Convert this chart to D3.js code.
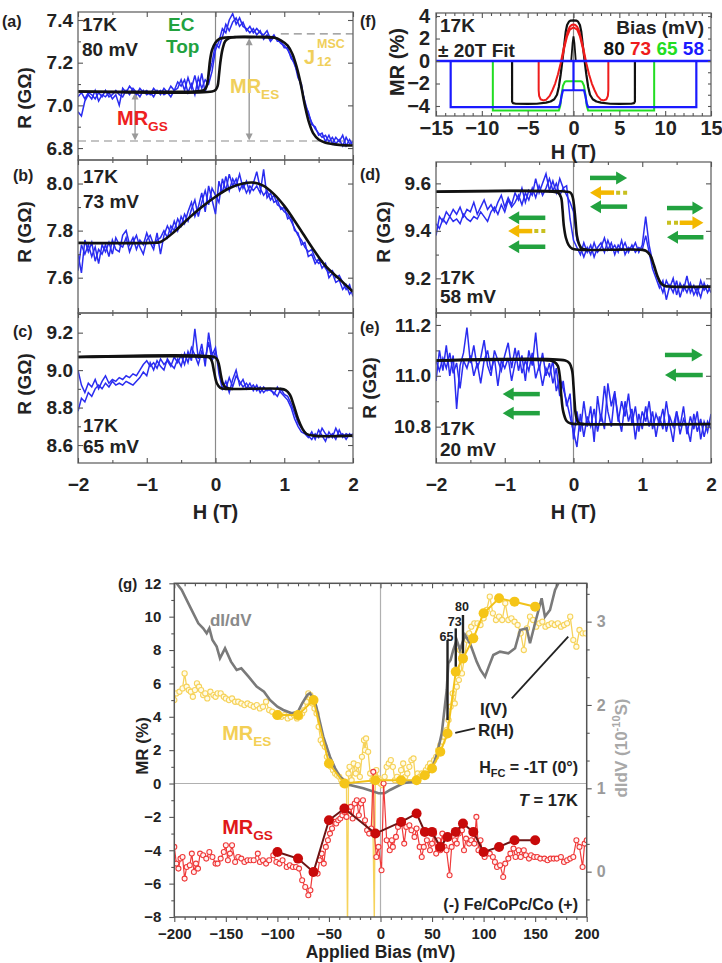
<!DOCTYPE html>
<html><head><meta charset="utf-8">
<script src="https://cdn.jsdelivr.net/npm/d3@7/dist/d3.min.js"></script>
<style>body{margin:0;background:#fff;} svg{display:block;}</style>
</head><body><svg id="c" width="722" height="963"></svg>
<script>
// ---------------- DATA ----------------
const H = [-2,-1.95,-1.9,-1.85,-1.8,-1.75,-1.7,-1.65,-1.6,-1.55,-1.5,-1.45,-1.4,-1.35,-1.3,-1.25,-1.2,-1.15,-1.1,-1.05,-1,-0.95,-0.9,-0.85,-0.8,-0.75,-0.7,-0.65,-0.6,-0.55,-0.5,-0.45,-0.4,-0.35,-0.3,-0.25,-0.2,-0.15,-0.1,-0.05,0,0.05,0.1,0.15,0.2,0.25,0.3,0.35,0.4,0.45,0.5,0.55,0.6,0.65,0.7,0.75,0.8,0.85,0.9,0.95,1,1.05,1.1,1.15,1.2,1.25,1.3,1.35,1.4,1.45,1.5,1.55,1.6,1.65,1.7,1.75,1.8,1.85,1.9,1.95,2];
const hTicks = [-2,-1,0,1,2];

// (a) 80 mV
const aSweep1 = [6.97,6.95,7.02,7.05,7.03,7.07,7.02,7.05,7.04,7.06,7.03,7.05,7.00,7.08,7.06,7.09,7.07,7.05,7.08,7.06,7.07,7.05,7.08,7.06,7.07,7.05,7.06,7.04,7.07,7.11,7.09,7.12,7.06,7.10,7.05,7.13,7.08,7.12,7.10,7.16,7.26,7.30,7.36,7.34,7.40,7.43,7.38,7.41,7.37,7.36,7.34,7.36,7.33,7.35,7.31,7.33,7.30,7.32,7.31,7.29,7.28,7.26,7.23,7.19,7.15,7.08,7.02,6.96,6.92,6.89,6.87,6.85,6.86,6.83,6.85,6.82,6.84,6.81,6.85,6.82,6.83];
const aSweep2 = [7.04,7.06,7.03,7.06,7.05,7.03,7.06,7.04,7.07,7.04,7.05,7.07,7.05,7.04,7.07,7.05,7.08,7.06,7.04,7.07,7.05,7.06,7.04,7.07,7.05,7.08,7.06,7.09,7.07,7.08,7.12,7.07,7.13,7.08,7.14,7.07,7.15,7.06,7.14,7.20,7.29,7.27,7.32,7.38,7.35,7.39,7.41,7.37,7.39,7.35,7.37,7.34,7.36,7.34,7.33,7.35,7.31,7.33,7.30,7.30,7.27,7.27,7.22,7.20,7.13,7.10,7.00,6.97,6.91,6.90,6.86,6.87,6.83,6.86,6.82,6.85,6.83,6.86,6.81,6.84,6.81];
const aFit1 = [[-2,7.065],[-0.3,7.065],[-0.2,7.068],[-0.15,7.076],[-0.12,7.1],[-0.1,7.15],[-0.08,7.21],[-0.05,7.26],[0,7.295],[0.06,7.312],[0.15,7.318],[0.5,7.32],[0.85,7.318],[0.95,7.305],[1.05,7.28],[1.12,7.24],[1.18,7.18],[1.24,7.1],[1.3,7.0],[1.36,6.92],[1.42,6.87],[1.5,6.84],[1.6,6.825],[1.8,6.815],[2,6.812]];
const aFit2 = [[-2,7.065],[-0.05,7.065],[0,7.072],[0.03,7.09],[0.05,7.14],[0.07,7.2],[0.1,7.26],[0.14,7.3],[0.2,7.315],[0.3,7.32],[0.85,7.318]];

// (b) 73 mV
const bSweep1 = [7.70,7.62,7.76,7.71,7.75,7.67,7.72,7.70,7.74,7.69,7.76,7.72,7.71,7.78,7.80,7.74,7.77,7.72,7.76,7.74,7.79,7.75,7.72,7.79,7.70,7.78,7.82,7.79,7.84,7.80,7.86,7.83,7.88,7.92,7.86,7.90,7.96,7.88,7.99,7.93,7.87,8.01,7.96,8.03,7.97,8.02,7.99,8.04,7.98,8.01,7.96,8.00,8.05,7.98,7.95,7.97,7.93,7.95,7.91,7.90,7.88,7.87,7.84,7.81,7.78,7.76,7.73,7.71,7.72,7.68,7.66,7.67,7.64,7.62,7.63,7.60,7.61,7.58,7.55,7.57,7.52];
const bSweep2 = [7.63,7.74,7.70,7.74,7.69,7.73,7.66,7.74,7.71,7.75,7.70,7.77,7.74,7.73,7.77,7.71,7.75,7.78,7.73,7.70,7.76,7.78,7.74,7.76,7.77,7.80,7.77,7.82,7.80,7.85,7.82,7.87,7.84,7.89,7.93,7.86,7.92,7.97,7.91,7.98,7.95,7.92,8.02,7.97,8.04,7.99,8.02,7.97,8.00,7.96,7.99,7.97,7.99,7.96,8.06,7.94,7.96,7.92,7.93,7.89,7.90,7.85,7.86,7.80,7.79,7.74,7.75,7.69,7.70,7.66,7.68,7.64,7.66,7.60,7.62,7.58,7.59,7.55,7.57,7.53,7.55];
const bFit = [[-2,7.748],[-0.95,7.748],[-0.8,7.752],[-0.6,7.795],[-0.4,7.85],[-0.2,7.90],[0,7.944],[0.2,7.98],[0.4,8.0],[0.55,8.004],[0.7,7.99],[0.85,7.955],[1.0,7.905],[1.2,7.82],[1.4,7.73],[1.6,7.65],[1.8,7.595],[2,7.54]];

// (c) 65 mV
const cSweep1 = [9.00,8.92,8.88,8.93,8.91,8.95,8.90,8.94,8.97,8.93,8.95,8.94,8.96,8.95,8.97,8.96,8.98,8.97,9.00,9.03,9.05,9.02,9.04,9.01,9.06,9.03,9.05,9.02,9.07,9.04,9.08,9.03,9.10,9.05,9.22,9.06,9.14,9.02,9.20,9.08,9.12,8.98,8.90,8.94,8.88,8.95,9.00,8.92,8.95,8.90,8.93,8.89,8.92,8.88,8.91,8.89,8.90,8.87,8.91,8.88,8.86,8.84,8.80,8.74,8.70,8.67,8.66,8.64,8.67,8.63,8.68,8.65,8.62,8.67,8.64,8.69,8.65,8.66,8.63,8.66,8.64];
const cSweep2 = [8.78,8.85,8.83,8.88,8.86,8.90,8.92,8.90,8.93,8.91,8.94,8.92,8.93,8.92,8.94,8.93,8.92,8.94,8.96,8.99,8.97,9.04,9.00,9.05,9.02,9.00,9.06,9.03,9.01,9.06,9.02,9.09,9.04,9.12,9.08,9.03,9.10,9.06,9.15,9.05,9.10,9.02,8.93,8.90,8.96,8.91,8.97,8.94,8.91,8.93,8.90,8.92,8.89,8.91,8.88,8.90,8.89,8.88,8.86,8.90,8.87,8.86,8.82,8.77,8.72,8.69,8.67,8.65,8.63,8.66,8.64,8.69,8.66,8.64,8.66,8.63,8.68,8.64,8.66,8.65,8.66];
const cFit1 = [[-2,9.07],[-0.12,9.07],[-0.08,9.065],[-0.05,9.045],[-0.02,8.99],[0.02,8.93],[0.07,8.905],[0.15,8.9],[0.95,8.9],[1.02,8.893],[1.08,8.87],[1.14,8.81],[1.2,8.74],[1.26,8.69],[1.32,8.66],[1.42,8.65],[2,8.65]];
const cFit2 = [[-2,9.07],[-0.02,9.07],[0.02,9.06],[0.05,9.03],[0.08,8.97],[0.11,8.925],[0.16,8.905],[0.25,8.9]];

// (d) 58 mV
const dSweep1 = [9.38,9.46,9.44,9.48,9.46,9.49,9.47,9.50,9.46,9.49,9.48,9.52,9.47,9.50,9.53,9.49,9.51,9.48,9.52,9.55,9.50,9.54,9.51,9.56,9.53,9.58,9.52,9.57,9.55,9.62,9.56,9.60,9.64,9.57,9.61,9.56,9.62,9.58,9.59,9.45,9.36,9.33,9.30,9.35,9.31,9.34,9.29,9.33,9.35,9.31,9.36,9.32,9.34,9.31,9.36,9.30,9.33,9.32,9.35,9.31,9.34,9.46,9.34,9.27,9.22,9.18,9.14,9.19,9.16,9.20,9.13,9.18,9.15,9.21,9.14,9.17,9.13,9.19,9.15,9.17,9.14];
const dSweep2 = [9.43,9.41,9.45,9.43,9.46,9.44,9.45,9.43,9.47,9.45,9.44,9.46,9.45,9.48,9.46,9.44,9.48,9.50,9.47,9.51,9.48,9.53,9.50,9.52,9.55,9.51,9.56,9.53,9.58,9.54,9.59,9.55,9.58,9.62,9.57,9.60,9.55,9.58,9.55,9.52,9.48,9.36,9.33,9.29,9.33,9.30,9.35,9.31,9.33,9.37,9.32,9.35,9.30,9.34,9.32,9.35,9.31,9.34,9.31,9.33,9.32,9.38,9.31,9.24,9.20,9.16,9.19,9.11,9.17,9.14,9.19,9.12,9.17,9.14,9.18,9.13,9.16,9.12,9.18,9.14,9.17];
const dFit1 = [[-2,9.565],[-0.3,9.565],[-0.22,9.56],[-0.18,9.54],[-0.16,9.49],[-0.14,9.42],[-0.11,9.37],[-0.07,9.34],[-0.02,9.325],[0.1,9.32],[1.0,9.32],[1.06,9.315],[1.12,9.295],[1.17,9.255],[1.22,9.21],[1.27,9.18],[1.33,9.168],[1.42,9.165],[2,9.165]];
const dFit2 = [[-2,9.565],[-0.1,9.565],[-0.04,9.56],[-0.01,9.54],[0.01,9.5],[0.03,9.44],[0.05,9.38],[0.08,9.345],[0.12,9.325],[0.2,9.32]];

// (e) 20 mV
const eSweep1 = [10.98,11.10,11.02,11.12,11.00,11.08,10.87,11.04,11.09,11.19,11.05,11.12,11.03,11.07,11.14,11.04,11.00,11.10,11.06,11.02,11.08,11.13,11.03,11.11,11.02,11.08,10.98,11.10,11.04,11.17,11.02,11.09,11.00,11.05,10.97,11.03,10.92,10.98,10.88,10.93,10.75,10.86,10.78,10.90,10.80,10.88,10.74,10.92,10.82,10.96,10.86,10.80,10.93,10.84,10.78,10.90,10.82,10.87,10.75,10.85,10.79,10.88,10.80,10.86,10.76,10.84,10.79,10.90,10.81,10.74,10.86,10.80,10.88,10.77,10.84,10.79,10.86,10.75,10.82,10.78,10.85];
const eSweep2 = [11.06,11.02,11.07,11.03,11.09,11.01,11.05,10.95,11.06,11.03,11.08,11.00,11.05,10.97,11.06,11.10,11.02,11.07,10.96,11.06,11.03,11.07,10.98,11.05,11.10,11.01,11.06,11.02,11.09,10.99,11.04,10.96,11.03,11.00,11.06,10.94,10.99,10.95,10.90,10.84,10.78,10.72,10.85,10.76,10.84,10.80,10.87,10.78,10.85,10.79,10.97,10.88,10.94,10.82,10.90,10.84,10.93,10.81,10.88,10.78,10.86,10.82,10.90,10.79,10.85,10.81,10.87,10.78,10.84,10.80,10.86,10.77,10.83,10.80,10.74,10.85,10.78,10.83,10.76,10.82,10.79];
const eFit1 = [[-2,11.06],[-0.35,11.06],[-0.28,11.055],[-0.23,11.04],[-0.2,11.0],[-0.18,10.93],[-0.15,10.86],[-0.1,10.822],[-0.04,10.812],[0.1,10.81],[2,10.81]];
const eFit2 = [[-2,11.06],[-0.12,11.06],[-0.06,11.05],[-0.02,11.02],[0,10.96],[0.015,10.9],[0.035,10.845],[0.07,10.816],[0.15,10.81]];

// (f) +/-20T fit, MR (%) vs H (T) for each bias
const fBias = ["80","73","65","58"];
const f80 = [[-15,0],[-6.7,0],[-6.7,-3.6],[-6.6,-3.75],[-6.3,-3.8],[-5,-3.82],[-4,-3.8],[-3,-3.7],[-2.5,-3.6],[-2.1,-3.4],[-1.8,-3.0],[-1.6,-2.3],[-1.4,-1.2],[-1.2,0.1],[-1.0,1.5],[-0.85,2.6],[-0.7,3.2],[-0.5,3.5],[-0.3,3.6],[0,3.62],[0.3,3.6],[0.5,3.5],[0.7,3.2],[0.85,2.6],[1.0,1.5],[1.2,0.1],[1.4,-1.2],[1.6,-2.3],[1.8,-3.0],[2.1,-3.4],[2.5,-3.6],[3,-3.7],[4,-3.8],[5,-3.82],[6.3,-3.8],[6.6,-3.75],[6.7,-3.6],[6.7,0],[15,0]];
const f80b = [[-0.25,0],[-0.1,1.6],[0,2.2],[0.1,1.6],[0.25,0]];
const f73 = [[-15,0],[-3.8,0],[-3.8,-2.6],[-3.75,-3.1],[-3.6,-3.4],[-3.3,-3.5],[-3.0,-3.45],[-2.6,-3.1],[-2.3,-2.6],[-2.0,-2.0],[-1.7,-1.2],[-1.4,-0.2],[-1.1,1.0],[-0.8,2.1],[-0.6,2.7],[-0.4,3.05],[-0.2,3.2],[0,3.25],[0.2,3.2],[0.4,3.05],[0.6,2.7],[0.8,2.1],[1.1,1.0],[1.4,-0.2],[1.7,-1.2],[2.0,-2.0],[2.3,-2.6],[2.6,-3.1],[3.0,-3.45],[3.3,-3.5],[3.6,-3.4],[3.75,-3.1],[3.8,-2.6],[3.8,0],[15,0]];
const f73b = [[-1.3,0],[-1.0,1.2],[-0.7,2.2],[-0.4,2.8],[0,3.0],[0.4,2.8],[0.7,2.2],[1.0,1.2],[1.3,0]];
const f65 = [[-15,0],[-8.8,0],[-8.8,-4.4],[-1.6,-4.4],[-1.45,-4.0],[-1.3,-3.0],[-1.15,-2.2],[-0.95,-1.85],[-0.8,-1.8],[0.8,-1.8],[0.95,-1.85],[1.15,-2.2],[1.3,-3.0],[1.45,-4.0],[1.6,-4.4],[8.8,-4.4],[8.8,0],[15,0]];
const f58 = [[-15,0],[-13.4,0],[-13.4,-4.1],[-1.6,-4.1],[-1.45,-3.8],[-1.3,-3.1],[-1.15,-2.6],[0,-2.6],[0,0],[0,-2.6],[1.15,-2.6],[1.3,-3.1],[1.45,-3.8],[1.6,-4.1],[13.4,-4.1],[13.4,0],[15,0]];
const fZero = [[-15,0],[15,0]];

// (g) MR vs applied bias
const esOpen = [[-200,5.0],[-198,5.4],[-195,5.5],[-192,5.7],[-190,6.6],[-188,5.8],[-186,5.6],[-184,5.5],[-182,5.2],[-180,5.6],[-178,6.0],[-176,5.8],[-174,5.6],[-172,5.3],[-170,5.4],[-168,5.1],[-165,5.5],[-162,5.3],[-160,5.2],[-158,5.4],[-155,5.4],[-152,5.2],[-150,5.1],[-147,5.0],[-144,5.1],[-141,4.9],[-138,4.9],[-135,4.8],[-132,4.7],[-129,4.8],[-126,4.7],[-123,4.6],[-120,4.7],[-117,4.5],[-114,4.6],[-111,4.9],[-108,4.4],[-105,4.3],[-102,4.1],[-99,4.2],[-96,4.0],[-93,4.1],[-90,3.9],[-87,4.0],[-84,4.1],[-81,3.9],[-78,4.0],[-76,4.2],[-74,4.4],[-72,4.9],[-70,5.4],[-68,5.3],[-66,4.8],[-64,4.5],[-62,4.2],[-60,3.4],[-58,2.6],[-56,2.4],[-54,2.2],[-52,1.6],[-50,1.2],[-48,1.0],[-46,0.8],[-44,0.6],[-42,0.5],[-40,0.4],[-38,0.2],[-36,0.0],[-34,0.1],[-33,-0.1],[-32,-9],[-31,0.6],[-30,1.0],[-28,0.2],[-26,1.2],[-24,0.6],[-22,1.1],[-20,0.4],[-18,1.6],[-16,2.6],[-15,2.0],[-14,2.7],[-12,1.9],[-10,0.6],[-8,0.2],[-6,-8.3],[-5,0.4],[-4,0.8],[-2,0.3],[0,0.0],[2,-0.1],[4,0.4],[6,1.0],[8,1.2],[10,1.4],[12,1.0],[14,0.2],[16,0.4],[18,0.2],[20,0.8],[22,1.2],[24,0.4],[26,0.6],[28,1.0],[30,1.4],[32,1.5],[34,0.2],[36,0.6],[38,0.4],[40,0.6],[42,0.5],[44,0.8],[46,1.0],[48,1.2],[50,1.0],[52,1.4],[54,1.6],[56,2.0],[58,2.3],[60,2.5],[62,2.8],[64,3.2],[66,3.8],[68,4.6],[70,5.4],[72,4.8],[74,5.8],[76,6.2],[77,8.0],[79,6.6],[81,7.4],[84,8.6],[86,9.0],[88,9.4],[91,9.6],[94,9.6],[97,9.5],[100,9.9],[103,10.4],[106,11.2],[109,10.2],[112,9.8],[115,10.0],[118,9.8],[121,10.8],[124,9.8],[127,9.9],[130,9.7],[133,9.5],[136,9.0],[139,8.0],[142,9.3],[145,10.0],[148,9.8],[151,9.4],[154,9.6],[157,9.7],[160,9.4],[163,9.5],[166,9.6],[169,9.5],[172,9.6],[175,9.4],[178,9.5],[181,9.6],[184,10.0],[187,8.6],[190,8.2],[193,9.2],[196,9.0],[199,9.0]];
const gsOpen = [[-200,-3.8],[-198,-4.8],[-196,-5.1],[-194,-4.5],[-192,-4.4],[-190,-5.7],[-188,-5.0],[-185,-4.9],[-183,-4.2],[-181,-5.3],[-179,-4.8],[-177,-5.1],[-175,-4.2],[-172,-4.3],[-169,-4.5],[-166,-4.1],[-163,-4.4],[-160,-4.8],[-158,-4.8],[-155,-4.5],[-152,-4.1],[-150,-3.7],[-148,-4.6],[-146,-4.2],[-144,-3.7],[-141,-4.7],[-138,-4.4],[-135,-4.5],[-132,-4.7],[-129,-4.6],[-126,-4.6],[-123,-4.6],[-119,-4.2],[-117,-4.7],[-114,-4.6],[-111,-4.8],[-108,-4.6],[-104,-4.3],[-101,-4.7],[-98,-4.8],[-95,-4.6],[-91,-5.0],[-88,-4.9],[-85,-5.0],[-82,-5.0],[-79,-5.1],[-76,-5.8],[-73,-6.2],[-70,-6.7],[-68,-6.4],[-66,-5.4],[-64,-5.2],[-61,-5.4],[-59,-4.6],[-57,-4.2],[-55,-4.8],[-53,-3.8],[-51,-3.4],[-49,-3.0],[-47,-2.7],[-45,-2.3],[-43,-2.4],[-41,-2.2],[-39,-2.1],[-37,-1.9],[-35,-1.7],[-33,-2.0],[-31,-1.6],[-29,-1.4],[-27,-2.1],[-25,-1.2],[-23,-1.0],[-21,-1.9],[-19,-1.2],[-17,-1.0],[-15,-2.2],[-13,-2.8],[-11,-3.0],[-9,-2.7],[-7,0.7],[-6,-3.0],[-4,-4.4],[-2,-3.8],[1,-5.2],[3,0.0],[6,-3.4],[9,-4.0],[11,-3.4],[12,-3.8],[15,-3.2],[17,-2.6],[20,-2.2],[23,-3.6],[25,-2.6],[28,-2.5],[30,-2.8],[33,-3.2],[35,-2.7],[38,-3.8],[40,-4.4],[42,-3.8],[45,-3.4],[48,-4.0],[50,-3.6],[52,-3.0],[54,-4.2],[56,-3.4],[58,-4.0],[60,-3.0],[62,-3.8],[64,-4.0],[67,-5.5],[69,-3.8],[72,-3.4],[74,-3.6],[76,-3.0],[79,-2.8],[81,-4.0],[83,-3.3],[86,-3.6],[88,-3.4],[91,-3.6],[93,-2.0],[95,-4.0],[97,-3.4],[99,-4.2],[101,-4.4],[104,-4.2],[106,-4.2],[109,-4.4],[111,-4.7],[113,-5.0],[116,-4.9],[119,-5.6],[121,-4.8],[124,-4.5],[126,-4.2],[129,-3.9],[131,-4.4],[134,-4.0],[136,-4.4],[139,-4.0],[141,-4.3],[144,-4.5],[146,-4.3],[149,-4.4],[152,-4.4],[155,-4.5],[159,-4.5],[162,-4.6],[165,-4.5],[168,-4.5],[171,-4.5],[175,-4.4],[178,-4.7],[181,-4.6],[184,-4.5],[187,-4.4],[190,-3.4],[193,-3.8],[196,-5.0],[198,-3.6],[200,-3.4]];
const rhBias = [-100,-80,-65,-50,-35,-5,20,35,43,50,58,65,73,80,90,100,115,130,150];
const rhES = [4.1,4.1,5.0,1.2,0.0,0.2,0.2,0.2,0.5,0.9,1.9,3.0,6.7,7.5,8.7,10.2,11.1,10.9,10.6];
const rhGS = [-4.1,-4.5,-5.3,-2.2,-1.5,-3.0,-2.3,-1.8,-2.9,-2.9,-3.8,-3.2,-2.9,-2.4,-2.9,-4.1,-3.8,-3.4,-3.4];
const didv = [[-200,3.50],[-196.5,3.44],[-192.8,3.38],[-184.8,3.18],[-176.7,2.98],[-172,2.92],[-168.6,2.86],[-166,2.92],[-163,2.78],[-158.9,2.70],[-155.7,2.56],[-150.8,2.68],[-145,2.52],[-139.5,2.42],[-135,2.44],[-128,2.34],[-120.1,2.22],[-113,2.16],[-107.2,2.06],[-100,1.98],[-94.3,1.94],[-86.1,1.90],[-80,1.92],[-76,2.02],[-71,2.12],[-68.4,2.14],[-64,2.06],[-61.9,1.96],[-55.5,1.62],[-49,1.38],[-44,1.24],[-39.3,1.14],[-29.6,1.04],[-16.7,1.00],[-1.9,0.94],[4,0.94],[9.2,0.98],[22.1,1.06],[30,1.08],[38.3,1.12],[46,1.18],[51.2,1.28],[55,1.42],[59.4,1.66],[62,1.94],[64.2,2.18],[65.8,2.50],[68,2.54],[70.6,2.66],[73.9,2.78],[77.1,2.66],[82,2.84],[86.8,2.74],[93.3,2.52],[97,2.42],[101.4,2.34],[105,2.46],[109.4,2.60],[115.9,2.64],[124,2.62],[130.5,2.68],[135.4,2.90],[141.8,2.92],[145,2.74],[149.9,2.98],[156.3,3.28],[159.5,3.06],[164.4,3.14],[169.3,3.38],[172.5,3.46],[176,3.66]];
const biasMarks = [65,73,80];
const gBiasTicks = [-200,-150,-100,-50,0,50,100,150,200];
const gMRTicks = [-8,-6,-4,-2,0,2,4,6,8,10,12];
const gDidvTicks = [0,1,2,3];

// ---------------- DRAW ----------------
const FONT = "'Liberation Sans', Arial, Helvetica, sans-serif";
const svg = d3.select("#c").attr("font-family", FONT).attr("font-weight", "bold");
const BLUE = "#2a2cf0", FITC = "#111", GREEN = "#22a23f", YEL = "#f3b800";
let clipN = 0;
function clip(x0, y0, w, h) {
  const id = "cp" + (clipN++);
  svg.append("clipPath").attr("id", id).append("rect").attr("x", x0).attr("y", y0).attr("width", w).attr("height", h);
  return `url(#${id})`;
}
function txt(g, x, y, s, size, color, anchor) {
  return g.append("text").attr("x", x).attr("y", y).attr("font-size", size).attr("fill", color || "#222")
    .attr("text-anchor", anchor || "start").text(s);
}
function subTxt(g, x, y, main, sub, size, color) {
  const t = g.append("text").attr("x", x).attr("y", y).attr("font-size", size).attr("fill", color);
  t.append("tspan").text(main);
  t.append("tspan").attr("font-size", size * 0.68).attr("dy", size * 0.3).text(sub);
  return t;
}
function styleAxis(sel, size, color) {
  sel.select(".domain").remove();
  sel.selectAll(".tick line").attr("stroke", "#555").attr("stroke-width", 1.1);
  sel.selectAll(".tick text").attr("font-size", size).attr("font-family", FONT).attr("font-weight", "bold").attr("fill", color || "#222");
  sel.attr("font-family", null).attr("font-size", null);
}
function arrow(g, xt, xh, yy, color, dashed) {
  const dir = Math.sign(xh - xt), hl = 11, hw = 6.5;
  const xb = xh - dir * hl;
  if (dashed) {
    const xm = (xt + xb) / 2;
    g.append("line").attr("x1", xm).attr("x2", xb + dir).attr("y1", yy).attr("y2", yy).attr("stroke", color).attr("stroke-width", 4.5);
    g.append("line").attr("x1", xt).attr("x2", xm).attr("y1", yy).attr("y2", yy).attr("stroke", "#c8c020").attr("stroke-width", 4).attr("stroke-dasharray", "4,3");
  } else {
    g.append("line").attr("x1", xt).attr("x2", xb + dir).attr("y1", yy).attr("y2", yy).attr("stroke", color).attr("stroke-width", 4.5);
  }
  g.append("path").attr("d", `M${xh},${yy}L${xb},${yy - hw}L${xb},${yy + hw}Z`).attr("fill", color);
}
function dblArrow(g, xx, ya, yb, color) {
  g.append("line").attr("x1", xx).attr("x2", xx).attr("y1", ya + 5).attr("y2", yb - 5).attr("stroke", color).attr("stroke-width", 1.4);
  g.append("path").attr("d", `M${xx},${ya}L${xx - 3.5},${ya + 7}L${xx + 3.5},${ya + 7}Z`).attr("fill", color);
  g.append("path").attr("d", `M${xx},${yb}L${xx - 3.5},${yb - 7}L${xx + 3.5},${yb - 7}Z`).attr("fill", color);
}

function hPanel(o) {
  const x = d3.scaleLinear().domain([-2, 2]).range([o.x0, o.x1]);
  const y = d3.scaleLinear().domain(o.yd).range([o.y1, o.y0]);
  const g = svg.append("g");
  const pg = g.append("g").attr("clip-path", clip(o.x0, o.y0, o.x1 - o.x0, o.y1 - o.y0));
  pg.append("line").attr("x1", x(0)).attr("x2", x(0)).attr("y1", o.y0).attr("y2", o.y1).attr("stroke", "#8a8a8a").attr("stroke-width", 1.2);
  if (o.under) o.under(pg, x, y);
  const sl = d3.line().x((d, i) => x(H[i])).y(d => y(d));
  o.sweeps.forEach(s => pg.append("path").attr("d", sl(s)).attr("fill", "none").attr("stroke", BLUE).attr("stroke-width", 1.5));
  const fl = d3.line().x(d => x(d[0])).y(d => y(d[1])).curve(d3.curveCatmullRom.alpha(0.5));
  o.fits.forEach(f => pg.append("path").attr("d", fl(f)).attr("fill", "none").attr("stroke", FITC).attr("stroke-width", 2.6));
  g.append("rect").attr("x", o.x0).attr("y", o.y0).attr("width", o.x1 - o.x0).attr("height", o.y1 - o.y0).attr("fill", "none").attr("stroke", "#666").attr("stroke-width", 1.3);
  const yMinor = o.yTicks.map(v => +(v + o.step / 2).toFixed(3)).filter(v => v > o.yd[0] && v < o.yd[1]);
  g.append("g").attr("transform", `translate(${o.x0},0)`).call(d3.axisLeft(y).tickValues(o.yTicks).tickSize(-5).tickPadding(5).tickFormat(d3.format(".1f"))).call(styleAxis, 19);
  g.append("g").attr("transform", `translate(${o.x0},0)`).call(d3.axisLeft(y).tickValues(yMinor).tickSize(-3).tickFormat("")).call(styleAxis, 10);
  g.append("g").attr("transform", `translate(${o.x1},0)`).call(d3.axisRight(y).tickValues(o.yTicks).tickSize(-5).tickFormat("")).call(styleAxis, 10);
  g.append("g").attr("transform", `translate(0,${o.y0})`).call(d3.axisTop(x).tickValues(hTicks).tickSize(-5).tickFormat("")).call(styleAxis, 10);
  g.append("g").attr("transform", `translate(0,${o.y0})`).call(d3.axisTop(x).tickValues([-1.5, -0.5, 0.5, 1.5]).tickSize(-3).tickFormat("")).call(styleAxis, 10);
  const bx = g.append("g").attr("transform", `translate(0,${o.y1})`).call(d3.axisBottom(x).tickValues(hTicks).tickSize(-5).tickPadding(15).tickFormat(o.showX ? d3.format("d") : ""));
  bx.call(styleAxis, 19);
  g.append("g").attr("transform", `translate(0,${o.y1})`).call(d3.axisBottom(x).tickValues([-1.5, -0.5, 0.5, 1.5]).tickSize(-3).tickFormat("")).call(styleAxis, 10);
  if (o.showX) txt(g, (o.x0 + o.x1) / 2, o.y1 + 56, "H (T)", 20, "#222", "middle");
  txt(g, o.lab[0], o.lab[1], o.label, 16, "#222");
  g.append("text").attr("transform", `translate(${o.ylx},${o.yly}) rotate(-90)`).attr("text-anchor", "middle").attr("font-size", 19).attr("fill", "#222").text("R (GΩ)");
  txt(g, o.tx, o.t1, "17K", 19, "#222");
  txt(g, o.tx, o.t2, o.bias, 19, "#222");
  if (o.extra) o.extra(g, x, y);
}

// (a)
hPanel({x0: 78, x1: 353, y0: 12, y1: 160, yd: [6.744, 7.4375], yTicks: [6.8, 7.0, 7.2, 7.4], step: 0.2,
  sweeps: [aSweep1, aSweep2], fits: [aFit1, aFit2], label: "(a)", lab: [2, 27], ylx: 31, yly: 98,
  tx: 82, t1: 31, t2: 56, bias: "80 mV",
  under: (g, x, y) => {
    g.append("line").attr("x1", x(-2)).attr("x2", x(2)).attr("y1", y(6.833)).attr("y2", y(6.833)).attr("stroke", "#8a8a8a").attr("stroke-width", 1.2).attr("stroke-dasharray", "8,5");
    g.append("line").attr("x1", x(0.95)).attr("x2", x(2)).attr("y1", y(7.335)).attr("y2", y(7.335)).attr("stroke", "#8a8a8a").attr("stroke-width", 1.2).attr("stroke-dasharray", "8,5");
    dblArrow(g, x(-1.17), y(7.06), y(6.835), "#9a9a9a");
    dblArrow(g, x(0.49), y(7.315), y(6.835), "#9a9a9a");
  },
  extra: (g, x, y) => {
    txt(g, 168, 31, "EC", 19, GREEN);
    txt(g, 166, 53, "Top", 19, GREEN);
    subTxt(g, 117, 125, "MR", "GS", 20, "#ee2020");
    subTxt(g, 230, 93, "MR", "ES", 20, "#f0cf5a");
    txt(g, 304, 64, "J", 20, "#f0cf5a");
    txt(g, 317, 48, "MSC", 12.5, "#f0cf5a");
    txt(g, 317, 66, "12", 13, "#f0cf5a");
  }
});
// (b)
hPanel({x0: 78, x1: 353, y0: 160, y1: 313, yd: [7.45, 8.10], yTicks: [7.6, 7.8, 8.0], step: 0.2,
  sweeps: [bSweep1, bSweep2], fits: [bFit], label: "(b)", lab: [13, 181], ylx: 31, yly: 232,
  tx: 83, t1: 183, t2: 208, bias: "73 mV"});
// (c)
hPanel({x0: 78, x1: 353, y0: 313, y1: 463, yd: [8.504, 9.305], yTicks: [8.6, 8.8, 9.0, 9.2], step: 0.2,
  sweeps: [cSweep1, cSweep2], fits: [cFit1, cFit2], label: "(c)", lab: [13, 337], ylx: 31, yly: 384,
  tx: 83, t1: 432, t2: 453, bias: "65 mV", showX: true});
// (d)
hPanel({x0: 436, x1: 711, y0: 162, y1: 313, yd: [9.054, 9.690], yTicks: [9.2, 9.4, 9.6], step: 0.2,
  sweeps: [dSweep1, dSweep2], fits: [dFit1, dFit2], label: "(d)", lab: [360, 180], ylx: 390, yly: 232,
  tx: 440, t1: 284, t2: 303, bias: "58 mV",
  extra: (g, x, y) => {
    arrow(g, x(-0.41), x(-0.95), y(9.455), GREEN);
    arrow(g, x(-0.41), x(-0.95), y(9.399), YEL, true);
    arrow(g, x(-0.41), x(-0.95), y(9.333), GREEN);
    arrow(g, x(0.24), x(0.78), y(9.623), GREEN);
    arrow(g, x(0.78), x(0.24), y(9.561), YEL, true);
    arrow(g, x(0.78), x(0.24), y(9.502), GREEN);
    arrow(g, x(1.36), x(1.89), y(9.496), GREEN);
    arrow(g, x(1.36), x(1.89), y(9.434), YEL, true);
    arrow(g, x(1.89), x(1.36), y(9.373), GREEN);
  }});
// (e)
hPanel({x0: 436, x1: 711, y0: 313, y1: 463, yd: [10.657, 11.247], yTicks: [10.8, 11.0, 11.2], step: 0.2,
  sweeps: [eSweep1, eSweep2], fits: [eFit1, eFit2], label: "(e)", lab: [360, 333], ylx: 376, yly: 388,
  tx: 440, t1: 435, t2: 456, bias: "20 mV", showX: true,
  extra: (g, x, y) => {
    arrow(g, x(-0.49), x(-1.03), y(10.928), GREEN);
    arrow(g, x(-0.49), x(-1.03), y(10.853), GREEN);
    arrow(g, x(1.33), x(1.88), y(11.082), GREEN);
    arrow(g, x(1.88), x(1.33), y(11.003), GREEN);
  }});

// (f)
(function () {
  const x0 = 436, x1 = 711, y0 = 13, y1 = 116;
  const x = d3.scaleLinear().domain([-15, 15]).range([x0, x1]);
  const y = d3.scaleLinear().domain([-4.89, 4.27]).range([y1, y0]);
  const g = svg.append("g");
  const pg = g.append("g").attr("clip-path", clip(x0, y0, x1 - x0, y1 - y0));
  pg.append("line").attr("x1", x(0)).attr("x2", x(0)).attr("y1", y0).attr("y2", y1).attr("stroke", "#8a8a8a").attr("stroke-width", 1.2);
  const l = d3.line().x(d => x(d[0])).y(d => y(d[1]));
  const cols = ["#111", "#ee1c1c", "#22dd22", "#1a1aff"];
  pg.append("path").attr("d", l(f65)).attr("fill", "none").attr("stroke", cols[2]).attr("stroke-width", 2);
  pg.append("path").attr("d", l(f80)).attr("fill", "none").attr("stroke", cols[0]).attr("stroke-width", 2.2).attr("stroke-linejoin", "round");
  pg.append("path").attr("d", l(f80b)).attr("fill", "none").attr("stroke", cols[0]).attr("stroke-width", 1.8);
  pg.append("path").attr("d", l(f73)).attr("fill", "none").attr("stroke", cols[1]).attr("stroke-width", 2).attr("stroke-linejoin", "round");
  pg.append("path").attr("d", l(f73b)).attr("fill", "none").attr("stroke", cols[1]).attr("stroke-width", 2).attr("stroke-linejoin", "round");
  pg.append("path").attr("d", l(f58)).attr("fill", "none").attr("stroke", cols[3]).attr("stroke-width", 2.2);
  pg.append("path").attr("d", l(fZero)).attr("fill", "none").attr("stroke", cols[3]).attr("stroke-width", 2.4);
  g.append("rect").attr("x", x0).attr("y", y0).attr("width", x1 - x0).attr("height", y1 - y0).attr("fill", "none").attr("stroke", "#666").attr("stroke-width", 1.3);
  g.append("g").attr("transform", `translate(${x0},0)`).call(d3.axisLeft(y).tickValues([-4, -2, 0, 2, 4]).tickSize(-4).tickPadding(6).tickFormat(d3.format("d"))).call(styleAxis, 20);
  g.append("g").attr("transform", `translate(${x1},0)`).call(d3.axisRight(y).tickValues([-4, -3, -2, -1, 0, 1, 2, 3, 4]).tickSize(-3).tickFormat("")).call(styleAxis, 10);
  const xt = [-15, -10, -5, 0, 5, 10, 15];
  const xm = [-14,-13,-12,-11,-9,-8,-7,-6,-4,-3,-2,-1,1,2,3,4,6,7,8,9,11,12,13,14];
  g.append("g").attr("transform", `translate(0,${y1})`).call(d3.axisBottom(x).tickValues(xt).tickSize(-5).tickPadding(5).tickFormat(d3.format("d"))).call(styleAxis, 20);
  g.append("g").attr("transform", `translate(0,${y1})`).call(d3.axisBottom(x).tickValues(xm).tickSize(-3).tickFormat("")).call(styleAxis, 10);
  g.append("g").attr("transform", `translate(0,${y0})`).call(d3.axisTop(x).tickValues(xt).tickSize(-5).tickFormat("")).call(styleAxis, 10);
  g.append("g").attr("transform", `translate(0,${y0})`).call(d3.axisTop(x).tickValues(xm).tickSize(-3).tickFormat("")).call(styleAxis, 10);
  txt(g, 360, 27, "(f)", 16);
  txt(g, (x0 + x1) / 2, 159, "H (T)", 20, "#222", "middle");
  g.append("text").attr("transform", `translate(404,62) rotate(-90)`).attr("text-anchor", "middle").attr("font-size", 20).attr("fill", "#222").text("MR (%)");
  txt(g, 440, 32, "17K", 19);
  txt(g, 438, 57, "± 20T Fit", 19);
  txt(g, 704, 34, "Bias (mV)", 19, "#222", "end");
  const lt = g.append("text").attr("x", 704).attr("y", 55).attr("font-size", 19).attr("text-anchor", "end");
  fBias.forEach((b, i) => lt.append("tspan").attr("fill", cols[i]).text((i ? " " : "") + b));
})();

// (g)
(function () {
  const x0 = 174.3, x1 = 586.7, y0 = 583.3, y1 = 917;
  const x = d3.scaleLinear().domain([-200, 200]).range([x0, x1]);
  const y = d3.scaleLinear().domain([-8, 12]).range([y1, y0]);
  const yR = d3.scaleLinear().domain([-0.544, 3.46]).range([y1, y0]);
  const g = svg.append("g");
  const pg = g.append("g").attr("clip-path", clip(x0, y0, x1 - x0, y1 - y0));
  pg.append("line").attr("x1", x0).attr("x2", x1).attr("y1", y(0)).attr("y2", y(0)).attr("stroke", "#b0b0b0").attr("stroke-width", 1.2);
  pg.append("line").attr("x1", x(0)).attr("x2", x(0)).attr("y1", y0).attr("y2", y1).attr("stroke", "#b0b0b0").attr("stroke-width", 1.2);
  const lm = d3.line().x(d => x(d[0])).y(d => y(d[1]));
  pg.append("path").attr("d", lm(esOpen)).attr("fill", "none").attr("stroke", "#f6d35c").attr("stroke-width", 1.3);
  pg.selectAll(".eso").data(esOpen).enter().append("circle").attr("cx", d => x(d[0])).attr("cy", d => y(d[1])).attr("r", 2.6)
    .attr("fill", "#fffbe8").attr("stroke", "#f6d35c").attr("stroke-width", 1.1);
  pg.append("path").attr("d", d3.line().x(d => x(d[0])).y(d => yR(d[1]))(didv)).attr("fill", "none").attr("stroke", "#7a7a7a").attr("stroke-width", 2.6);
  pg.append("path").attr("d", lm(gsOpen)).attr("fill", "none").attr("stroke", "#ef3a3a").attr("stroke-width", 1.2);
  pg.selectAll(".gso").data(gsOpen).enter().append("circle").attr("cx", d => x(d[0])).attr("cy", d => y(d[1])).attr("r", 2.5)
    .attr("fill", "#fff3f3").attr("stroke", "#ef3a3a").attr("stroke-width", 1.1);
  const esF = rhBias.map((b, i) => [b, rhES[i]]);
  const gsF = rhBias.map((b, i) => [b, rhGS[i]]);
  pg.append("path").attr("d", lm(esF)).attr("fill", "none").attr("stroke", "#f2c21a").attr("stroke-width", 2);
  pg.selectAll(".esf").data(esF).enter().append("circle").attr("cx", d => x(d[0])).attr("cy", d => y(d[1])).attr("r", 5).attr("fill", "#f5c518");
  pg.append("path").attr("d", lm(gsF)).attr("fill", "none").attr("stroke", "#6e1414").attr("stroke-width", 2);
  pg.selectAll(".gsf").data(gsF).enter().append("circle").attr("cx", d => x(d[0])).attr("cy", d => y(d[1])).attr("r", 5).attr("fill", "#c80a0a");
  // bias marker lines and labels
  const mk = [[8.6, 3.8], [9.3, 7.0], [10.1, 7.8]];
  const lbY = [641, 626, 611];
  biasMarks.forEach((b, i) => {
    g.append("line").attr("x1", x(b)).attr("x2", x(b)).attr("y1", y(mk[i][0])).attr("y2", y(mk[i][1])).attr("stroke", "#222").attr("stroke-width", 2.4);
    txt(g, x(b) - 1, lbY[i], String(b), 12.5, "#222", "middle");
  });
  g.append("line").attr("x1", x(127.3)).attr("y1", y(5.1)).attr("x2", x(182.1)).attr("y2", y(8.8)).attr("stroke", "#222").attr("stroke-width", 1.8);
  g.append("line").attr("x1", x(72.5)).attr("y1", y(3.04)).attr("x2", x(91.7)).attr("y2", y(3.3)).attr("stroke", "#222").attr("stroke-width", 1.8);
  txt(g, x(96.5), y(4.1), "I(V)", 17);
  txt(g, x(94.6), y(2.84), "R(H)", 17);
  g.append("rect").attr("x", x0).attr("y", y0).attr("width", x1 - x0).attr("height", y1 - y0).attr("fill", "none").attr("stroke", "#555").attr("stroke-width", 1.5);
  const minorMR = [-7,-5,-3,-1,1,3,5,7,9,11];
  const minorB = [-190,-180,-170,-160,-140,-130,-120,-110,-90,-80,-70,-60,-40,-30,-20,-10,10,20,30,40,60,70,80,90,110,120,130,140,160,170,180,190];
  g.append("g").attr("transform", `translate(${x0},0)`).call(d3.axisLeft(y).tickValues(gMRTicks).tickSize(5).tickPadding(8).tickFormat(d3.format("d"))).call(styleAxis, 15);
  g.append("g").attr("transform", `translate(${x0},0)`).call(d3.axisLeft(y).tickValues(minorMR).tickSize(3).tickFormat("")).call(styleAxis, 10);
  g.append("g").attr("transform", `translate(0,${y1})`).call(d3.axisBottom(x).tickValues(gBiasTicks).tickSize(5).tickPadding(6).tickFormat(d3.format("d"))).call(styleAxis, 15);
  g.append("g").attr("transform", `translate(0,${y1})`).call(d3.axisBottom(x).tickValues(minorB).tickSize(3).tickFormat("")).call(styleAxis, 10);
  g.append("g").attr("transform", `translate(0,${y0})`).call(d3.axisTop(x).tickValues(gBiasTicks).tickSize(-5).tickFormat("")).call(styleAxis, 10);
  g.append("g").attr("transform", `translate(0,${y0})`).call(d3.axisTop(x).tickValues(minorB).tickSize(-3).tickFormat("")).call(styleAxis, 10);
  g.append("g").attr("transform", `translate(${x1},0)`).call(d3.axisRight(yR).tickValues(gDidvTicks).tickSize(5).tickPadding(5).tickFormat(d3.format("d"))).call(styleAxis, 16, "#9a9a9a");
  g.append("g").attr("transform", `translate(${x1},0)`).call(d3.axisRight(yR).tickValues([-1/3, 1/3, 2/3, 4/3, 5/3, 7/3, 8/3, 10/3]).tickSize(3).tickFormat("")).call(styleAxis, 10);
  txt(g, 118, 589, "(g)", 15);
  txt(g, (x0 + x1) / 2, 958, "Applied Bias (mV)", 17.5, "#222", "middle");
  g.append("text").attr("transform", `translate(148,746) rotate(-90)`).attr("text-anchor", "middle").attr("font-size", 17).attr("fill", "#222").text("MR (%)");
  const rl = g.append("text").attr("transform", `translate(627,748) rotate(-90)`).attr("text-anchor", "middle").attr("font-size", 17).attr("fill", "#a8a8a8");
  rl.append("tspan").text("dIdV (10");
  rl.append("tspan").attr("font-size", 11).attr("dy", -7).text("-10");
  rl.append("tspan").attr("dy", 7).text("S)");
  txt(g, x(-165.4), y(9.44), "dI/dV", 17, "#8a8a8a");
  subTxt(g, x(-153.6), y(2.6), "MR", "ES", 20, "#f3cf55");
  subTxt(g, x(-153.6), y(-3.0), "MR", "GS", 20, "#e01818");
  const hf = g.append("text").attr("x", x(191.6)).attr("y", y(0.62)).attr("text-anchor", "end").attr("font-size", 16).attr("fill", "#222");
  hf.append("tspan").text("H");
  hf.append("tspan").attr("font-size", 11).attr("dy", 4).text("FC");
  hf.append("tspan").attr("dy", -4).text(" = -1T (0°)");
  const tt = g.append("text").attr("x", x(191.6)).attr("y", y(-1.36)).attr("text-anchor", "end").attr("font-size", 16.5).attr("fill", "#222");
  tt.append("tspan").attr("font-style", "italic").text("T");
  tt.append("tspan").text(" = 17K");
  txt(g, x(191.6), y(-7.6), "(-) Fe/CoPc/Co (+)", 16, "#222", "end");
})();
</script></body></html>
